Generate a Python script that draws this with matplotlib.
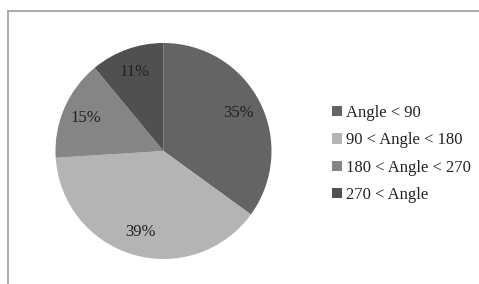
import matplotlib
matplotlib.use("Agg")
import matplotlib.pyplot as plt
from matplotlib.lines import Line2D

labels = ["Angle < 90", "90 < Angle < 180", "180 < Angle < 270", "270 < Angle"]
shares = [35, 39, 15, 11]
colors = ["#646464", "#b4b4b4", "#858585", "#505050"]

plt.rcParams["font.family"] = ["Liberation Serif", "DejaVu Serif"]

W, H = 479, 284
fig = plt.figure(figsize=(W / 100, H / 100), dpi=100)

# pie centre and radius in pixels
cx, cy, r = 163.5, 151, 108
ax = fig.add_axes([(cx - r) / W, (H - cy - r) / H, 2 * r / W, 2 * r / H])
wedges, texts, autotexts = ax.pie(
    shares, colors=colors, startangle=90, counterclock=False,
    autopct="%d%%", pctdistance=0.78,
    wedgeprops=dict(linewidth=0),
    textprops=dict(fontsize=12, color="#222222"))
ax.set_xlim(-1, 1)
ax.set_ylim(-1, 1)
ax.set_aspect("auto")

leg = fig.legend(wedges, labels, loc="upper left",
                 bbox_to_anchor=(332 / W, 1 - 105 / H),
                 frameon=False, fontsize=12,
                 handlelength=0.6, handleheight=0.6,
                 handletextpad=0.25, labelspacing=0.68,
                 borderpad=0, borderaxespad=0)
for t in leg.get_texts():
    t.set_color("#222222")

# outer frame: left and top edges only
fc = "#a6a6a6"
fig.add_artist(Line2D([7.5 / W, 7.5 / W], [0, 1 - 10.5 / H],
                      transform=fig.transFigure, color=fc, lw=1.3))
fig.add_artist(Line2D([7.5 / W, 1], [1 - 10.5 / H, 1 - 10.5 / H],
                      transform=fig.transFigure, color=fc, lw=1.3))

fig.savefig("out.png", dpi=100)
